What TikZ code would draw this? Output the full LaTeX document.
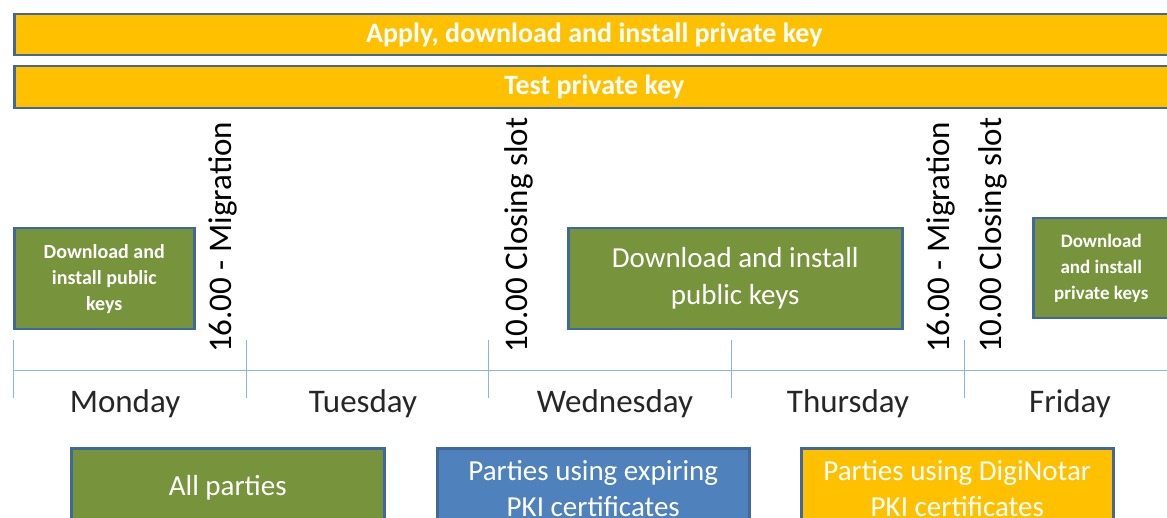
\documentclass[tikz,border=0pt]{standalone}
\usepackage{fontspec}
\setmainfont{Carlito}

\definecolor{edgeblue}{HTML}{41689B}
\definecolor{keygold}{HTML}{FFC000}
\definecolor{keygreen}{HTML}{77933C}
\definecolor{pkiblue}{HTML}{4F81BD}
\definecolor{tickblue}{HTML}{8DB3E2}
\definecolor{daygray}{HTML}{262626}

\tikzset{
  task/.style={draw=edgeblue, line width=2.5pt, text=white, align=center,
    inner sep=0pt, anchor=north west},
  daytick/.style={draw=tickblue, line width=1pt},
  dayname/.style={anchor=base, text=daygray, font=\fontsize{33}{38}\selectfont},
  slot/.style={rotate=90, anchor=base west, inner sep=0pt, text=black,
    font=\fontsize{33}{38}\selectfont},
}

\begin{document}
\begin{tikzpicture}[x=1pt,y=-1pt]

% Page size, pixels of the original
\useasboundingbox (0,0) rectangle (1167,518);
\clip (0,0) rectangle (1167,518);

% Bars that run over the whole week
\node[task, fill=keygold, minimum width=1160, minimum height=41,
  font=\fontsize{28}{32}\selectfont\bfseries] (apply) at (13,13)
  {Apply, download and install private key};
\node[task, fill=keygold, minimum width=1160, minimum height=42,
  font=\fontsize{28}{32}\selectfont\bfseries] (test) at (13,65)
  {Test private key};

% Time line with the day borders
\coordinate (T0) at (13,371);
\coordinate (T5) at (1167,371);
\draw[daytick] (T0) -- (T5);
\foreach \x/\n in {13/d0, 246/d1, 488/d2, 731/d3, 964/d4} {
  \coordinate (\n top) at (\x,340);
  \coordinate (\n bot) at (\x,398);
  \draw[daytick] (\n top) -- (\n bot);
}

% Names of the days
\node[dayname] (mon) at (125,412) {Monday};
\node[dayname] (tue) at (363,412) {Tuesday};
\node[dayname] (wed) at (615,412) {Wednesday};
\node[dayname] (thu) at (848,412) {Thursday};
\node[dayname] (fri) at (1070,412) {Friday};

% Migration and closing moments
\node[slot] (mig1) at (231,353) {16.00 - Migration};
\node[slot] (close1) at (527,353) {10.00 Closing slot};
\node[slot] (mig2) at (949,353) {16.00 - Migration};
\node[slot] (close2) at (1001,353) {10.00 Closing slot};

% Key tasks on the days
\node[task, fill=keygreen, minimum width=180, minimum height=101,
  font=\fontsize{20}{26}\selectfont\bfseries] (pubmon) at (13,227)
  {Download and\\install public\\keys};
\node[task, fill=keygreen, minimum width=334, minimum height=101,
  font=\fontsize{29}{37}\selectfont] (pubwed) at (567,227)
  {Download and install\\public keys};
\node[task, fill=keygreen, minimum width=136, minimum height=100,
  font=\fontsize{19}{26}\selectfont\bfseries] (privfri) at (1032,217)
  {Download\\and install\\private keys};

% Who takes part
\node[task, fill=keygreen, minimum width=313, minimum height=80,
  font=\fontsize{29}{36}\selectfont] (all) at (70,447) {All parties};
\node[task, fill=pkiblue, minimum width=312, minimum height=80,
  font=\fontsize{29}{36}\selectfont] (expiring) at (436,447)
  {Parties using expiring\\PKI certificates};
\node[task, fill=keygold, minimum width=312, minimum height=80,
  font=\fontsize{29}{36}\selectfont] (diginotar) at (800,447)
  {Parties using DigiNotar\\PKI certificates};
\end{tikzpicture}
\end{document}
